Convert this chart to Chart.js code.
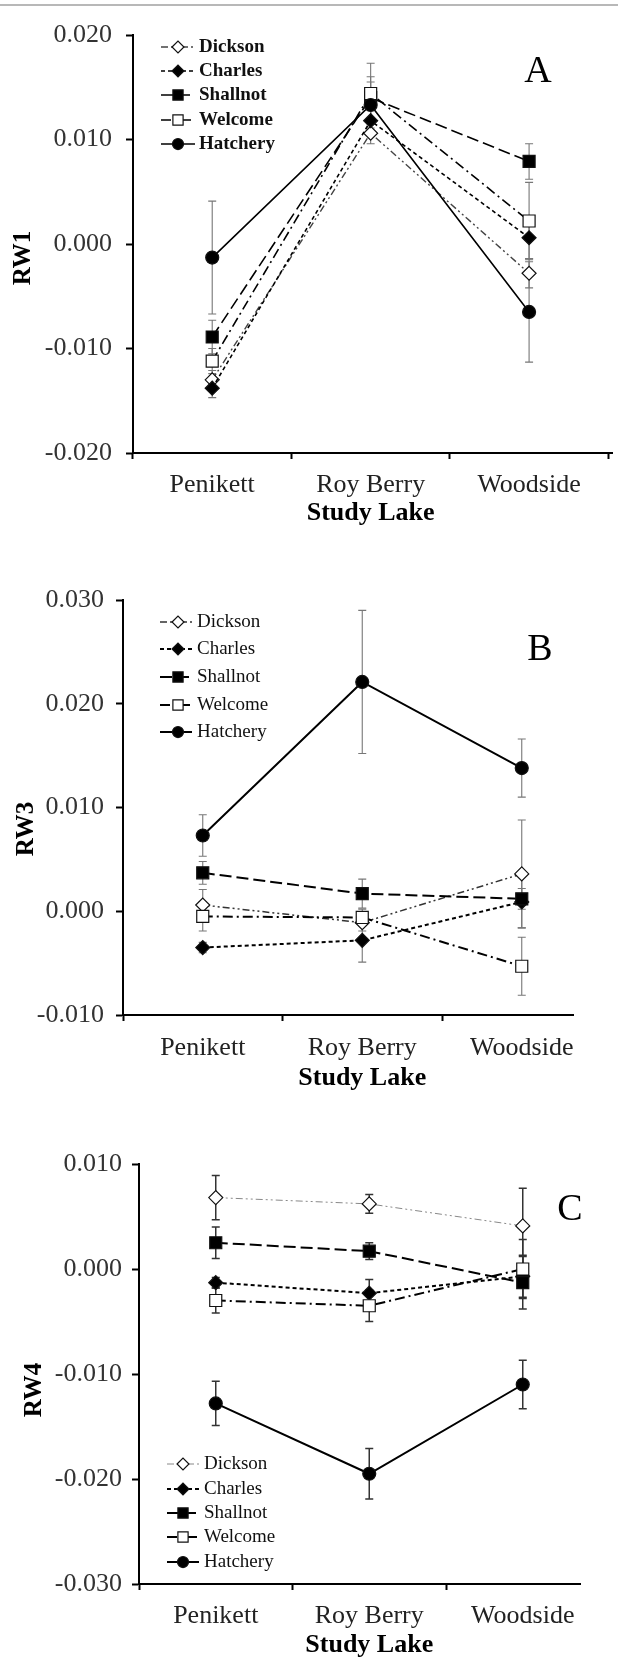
<!DOCTYPE html>
<html>
<head>
<meta charset="utf-8">
<script src="https://cdn.jsdelivr.net/npm/chart.js@4.4.1/dist/chart.umd.min.js"></script>
<style>
  html, body { margin: 0; padding: 0; background: #fff; }
  body { width: 618px; height: 1661px; position: relative; overflow: hidden; }
  .rule { position: absolute; left: 0; top: 4px; width: 618px; height: 2px; background: #b8b8b8; }
  canvas { position: absolute; left: 0; }
</style>
</head>
<body>
<div class="rule"></div>
<canvas id="rw1" width="618" height="529" style="top:0px"></canvas>
<canvas id="rw3" width="618" height="564" style="top:530px"></canvas>
<canvas id="rw4" width="618" height="567" style="top:1094px"></canvas>
<script>
const lakes = ["Penikett", "Roy Berry", "Woodside"];
const populations = ["Dickson", "Charles", "Shallnot", "Welcome", "Hatchery"];

// RW1 : means and standard errors (Penikett, Roy Berry, Woodside)
const rw1Dickson = [-0.0130, 0.0106, -0.0028];
const rw1Charles = [-0.0138, 0.0118, 0.0006];
const rw1Shallnot = [-0.0089, 0.0140, 0.0079];
const rw1Welcome = [-0.0112, 0.0144, 0.0022];
const rw1Hatchery = [-0.0013, 0.0133, -0.0065];
const rw1DicksonSe = [0.0009, 0.0010, 0.0014];
const rw1CharlesSe = [0.0009, 0.0012, 0.0020];
const rw1ShallnotSe = [0.0016, 0.0020, 0.0017];
const rw1WelcomeSe = [0.0012, 0.0029, 0.0037];
const rw1HatcherySe = [0.0054, 0.0022, 0.0048];

// RW3
const rw3Dickson = [0.0006, -0.0011, 0.0036];
const rw3Charles = [-0.0035, -0.0028, 0.0009];
const rw3Shallnot = [0.0037, 0.0017, 0.0012];
const rw3Welcome = [-0.0005, -0.0006, -0.0053];
const rw3Hatchery = [0.0073, 0.0221, 0.0138];
const rw3DicksonSe = [0.0015, 0.0008, 0.0052];
const rw3CharlesSe = [0.0005, 0.0021, 0.0025];
const rw3ShallnotSe = [0.0011, 0.0014, 0.0010];
const rw3WelcomeSe = [0.0014, 0.0008, 0.0028];
const rw3HatcherySe = [0.0020, 0.0069, 0.0028];

// RW4
const rw4Dickson = [0.0068, 0.0062, 0.0041];
const rw4Charles = [-0.0013, -0.0023, -0.0007];
const rw4Shallnot = [0.0025, 0.0017, -0.0013];
const rw4Welcome = [-0.0030, -0.0035, 0.0000];
const rw4Hatchery = [-0.0128, -0.0195, -0.0110];
const rw4DicksonSe = [0.0021, 0.0009, 0.0036];
const rw4CharlesSe = [0.0005, 0.0013, 0.0020];
const rw4ShallnotSe = [0.0015, 0.0008, 0.0025];
const rw4WelcomeSe = [0.0012, 0.0015, 0.0028];
const rw4HatcherySe = [0.0021, 0.0024, 0.0023];

const serif = "'Liberation Serif', 'Times New Roman', serif";

// marker + line look of each population
const looks = {
  Dickson: { style: "rectRot", r: 7, fill: "#fff", dash: [7, 3, 2, 3, 2, 3], order: 5 },
  Charles: { style: "rectRot", r: 7, fill: "#000", dash: [4, 3], order: 4 },
  Shallnot: { style: "rect", r: 8.5, fill: "#000", dash: [12, 5], order: 3 },
  Welcome: { style: "rect", r: 8.5, fill: "#fff", dash: [10, 4, 2, 4], order: 2 },
  Hatchery: { style: "circle", r: 6.5, fill: "#000", dash: [], order: 1 },
};

// error bars under the markers
const errorBars = {
  id: "errorBars",
  beforeDatasetsDraw(chart, args, opts) {
    const { ctx } = chart;
    const y = chart.scales.y;
    ctx.save();
    ctx.strokeStyle = opts.color;
    ctx.lineWidth = opts.width;
    ctx.setLineDash([]);
    chart.data.datasets.forEach((ds, i) => {
      const meta = chart.getDatasetMeta(i);
      meta.data.forEach((pt, j) => {
        const top = y.getPixelForValue(ds.data[j] + ds.errors[j]);
        const bot = y.getPixelForValue(ds.data[j] - ds.errors[j]);
        ctx.beginPath();
        ctx.moveTo(pt.x, top);
        ctx.lineTo(pt.x, bot);
        ctx.moveTo(pt.x - opts.cap, top);
        ctx.lineTo(pt.x + opts.cap, top);
        ctx.moveTo(pt.x - opts.cap, bot);
        ctx.lineTo(pt.x + opts.cap, bot);
        ctx.stroke();
      });
    });
    ctx.restore();
  },
};

// x axis line (stops short of the last category edge on B and C)
const axisLine = {
  id: "axisLine",
  afterDatasetsDraw(chart, args, opts) {
    const { ctx, chartArea } = chart;
    ctx.save();
    ctx.strokeStyle = "#000";
    ctx.lineWidth = 2;
    ctx.beginPath();
    ctx.moveTo(chartArea.left - 1, chartArea.bottom);
    ctx.lineTo(opts.end, chartArea.bottom);
    ctx.stroke();
    ctx.restore();
  },
};

// legend with line sample + marker
const lineLegend = {
  id: "lineLegend",
  afterDraw(chart, args, o) {
    const { ctx } = chart;
    chart.data.datasets.forEach((ds, i) => {
      const y = o.rows[i];
      ctx.save();
      ctx.strokeStyle = ds.borderColor;
      ctx.lineWidth = ds.borderWidth;
      ctx.setLineDash(ds.borderDash);
      ctx.beginPath();
      ctx.moveTo(o.x1, y);
      ctx.lineTo(o.x2, y);
      ctx.stroke();
      ctx.setLineDash([]);
      ctx.fillStyle = ds.pointBackgroundColor;
      ctx.strokeStyle = ds.pointBorderColor;
      ctx.lineWidth = ds.pointBorderWidth;
      Chart.helpers.drawPoint(ctx, {
        pointStyle: ds.pointStyle,
        radius: ds.pointRadius * 0.85,
        borderWidth: ds.pointBorderWidth,
        rotation: 0,
      }, o.mx, y);
      ctx.fillStyle = "#111";
      ctx.font = o.font;
      ctx.textAlign = "left";
      ctx.textBaseline = "middle";
      ctx.fillText(ds.label, o.tx, y);
      ctx.restore();
    });
  },
};

// panel letter and rotated y title
const panelText = {
  id: "panelText",
  afterDraw(chart, args, o) {
    const { ctx } = chart;
    ctx.save();
    ctx.fillStyle = "#000";
    ctx.textAlign = "center";
    ctx.textBaseline = "middle";
    ctx.font = "38px " + serif;
    ctx.fillText(o.letter, o.lx, o.ly);
    ctx.translate(o.tx, o.ty);
    ctx.rotate(-Math.PI / 2);
    ctx.font = "bold 25px " + serif;
    ctx.fillText(o.title, 0, 0);
    ctx.restore();
  },
};

function makePanel(id, p) {
  const canvas = document.getElementById(id);
  const top = p.top;
  const H = canvas.height;
  const datasets = p.series.map((s, i) => {
    const lk = looks[populations[i]];
    return {
      label: populations[i],
      data: s[0],
      errors: s[1],
      borderColor: populations[i] === "Dickson" ? p.dicksonColor : "#000",
      borderWidth: populations[i] === "Dickson" ? p.dicksonWidth : p.lineWidth,
      borderDash: lk.dash,
      pointStyle: lk.style,
      pointRadius: lk.r,
      pointHoverRadius: lk.r,
      pointBackgroundColor: lk.fill,
      pointBorderColor: "#111",
      pointBorderWidth: 1.2,
      fill: false,
      tension: 0,
      order: lk.order,
    };
  });

  return new Chart(canvas, {
    type: "line",
    data: { labels: lakes, datasets: datasets },
    plugins: [errorBars, axisLine, lineLegend, panelText],
    options: {
      responsive: false,
      animation: false,
      events: [],
      layout: {
        padding: { left: 0, top: p.area.t - top, right: 618 - p.area.r, bottom: 0 },
      },
      scales: {
        x: {
          type: "category",
          offset: true,
          afterFit: (s) => { s.height = H - (p.area.b - top); },
          border: { display: false },
          grid: {
            offset: true,
            drawOnChartArea: false,
            drawTicks: true,
            tickLength: 6,
            tickWidth: 2,
            tickColor: (c) => (p.hideLastTick && c.index === undefined ? "rgba(0,0,0,0)" : "#000"),
          },
          ticks: {
            color: "#222",
            padding: p.xPad,
            font: { family: serif, size: 26 },
          },
          title: {
            display: true,
            text: "Study Lake",
            color: "#000",
            padding: 0,
            font: { family: serif, size: 26, weight: "bold" },
          },
        },
        y: {
          min: p.yMin,
          max: p.yMax,
          afterFit: (s) => { s.width = p.area.l; },
          border: { display: true, color: "#000", width: 2 },
          grid: {
            drawOnChartArea: false,
            tickLength: 7,
            tickWidth: 2,
            tickColor: "#000",
          },
          ticks: {
            stepSize: 0.01,
            color: "#333",
            padding: p.yPad,
            font: { family: serif, size: 26 },
            callback: (v) => v.toFixed(3),
          },
        },
      },
      plugins: {
        legend: { display: false },
        tooltip: { enabled: false },
        errorBars: { color: p.errColor, width: p.errWidth, cap: 4 },
        axisLine: { end: p.axisEnd },
        lineLegend: {
          rows: p.legend.rows.map((r) => r - top),
          x1: p.legend.x1,
          x2: p.legend.x2,
          mx: p.legend.mx,
          tx: p.legend.tx,
          font: p.legend.font,
        },
        panelText: {
          letter: p.letter,
          lx: p.letterAt[0],
          ly: p.letterAt[1] - top,
          title: p.yTitle,
          tx: p.titleAt[0],
          ty: p.titleAt[1] - top,
        },
      },
    },
  });
}

makePanel("rw1", {
  top: 0,
  area: { l: 133, r: 612, t: 35, b: 453 },
  axisEnd: 613,
  hideLastTick: false,
  yMin: -0.02, yMax: 0.02, yPad: 14, xPad: 11,
  yTitle: "RW1", titleAt: [24, 258],
  letter: "A", letterAt: [538, 72],
  lineWidth: 1.6, dicksonColor: "#444", dicksonWidth: 1.4,
  errColor: "#777", errWidth: 1.1,
  legend: { rows: [47, 71, 95, 120, 144], x1: 161, x2: 195, mx: 178, tx: 199, font: "bold 19px " + serif },
  series: [
    [rw1Dickson, rw1DicksonSe],
    [rw1Charles, rw1CharlesSe],
    [rw1Shallnot, rw1ShallnotSe],
    [rw1Welcome, rw1WelcomeSe],
    [rw1Hatchery, rw1HatcherySe],
  ],
});

makePanel("rw3", {
  top: 530,
  area: { l: 123, r: 601.5, t: 600, b: 1015 },
  axisEnd: 574,
  hideLastTick: true,
  yMin: -0.01, yMax: 0.03, yPad: 12, xPad: 12,
  yTitle: "RW3", titleAt: [27, 829],
  letter: "B", letterAt: [540, 650],
  lineWidth: 2, dicksonColor: "#333", dicksonWidth: 1.5,
  errColor: "#777", errWidth: 1.1,
  legend: { rows: [622, 649, 677, 705, 732], x1: 160, x2: 192, mx: 178, tx: 197, font: "19px " + serif },
  series: [
    [rw3Dickson, rw3DicksonSe],
    [rw3Charles, rw3CharlesSe],
    [rw3Shallnot, rw3ShallnotSe],
    [rw3Welcome, rw3WelcomeSe],
    [rw3Hatchery, rw3HatcherySe],
  ],
});

makePanel("rw4", {
  top: 1094,
  area: { l: 139, r: 599.5, t: 1164, b: 1584 },
  axisEnd: 581,
  hideLastTick: true,
  yMin: -0.03, yMax: 0.01, yPad: 10, xPad: 11,
  yTitle: "RW4", titleAt: [35, 1390],
  letter: "C", letterAt: [570, 1210],
  lineWidth: 2, dicksonColor: "#888", dicksonWidth: 1,
  errColor: "#333", errWidth: 1.5,
  legend: { rows: [1464, 1489, 1513, 1537, 1562], x1: 167, x2: 199, mx: 183, tx: 204, font: "19px " + serif },
  series: [
    [rw4Dickson, rw4DicksonSe],
    [rw4Charles, rw4CharlesSe],
    [rw4Shallnot, rw4ShallnotSe],
    [rw4Welcome, rw4WelcomeSe],
    [rw4Hatchery, rw4HatcherySe],
  ],
});
</script>
</body>
</html>
